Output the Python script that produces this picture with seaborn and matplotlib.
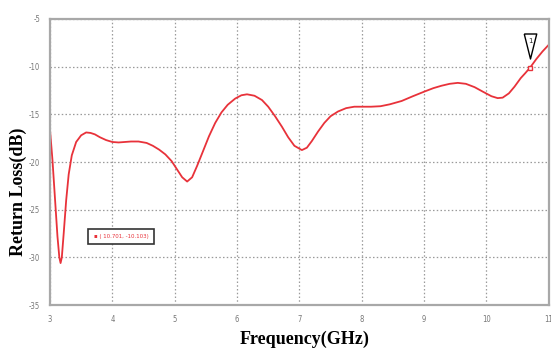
import matplotlib
matplotlib.use("Agg")
import matplotlib.pyplot as plt
import seaborn as sns
import pandas as pd

freq = [3.00, 3.04, 3.08, 3.12, 3.15, 3.17, 3.19, 3.22, 3.26, 3.30, 3.35, 3.42, 3.50, 3.58,
        3.65, 3.72, 3.80, 3.90, 4.00, 4.10, 4.20, 4.30, 4.42, 4.55, 4.65, 4.75, 4.85, 4.95,
        5.05, 5.12, 5.20, 5.28, 5.36, 5.44, 5.55, 5.65, 5.75, 5.85, 5.97, 6.07, 6.16, 6.28,
        6.40, 6.50, 6.61, 6.72, 6.82, 6.92, 7.04, 7.12, 7.20, 7.30, 7.40, 7.50, 7.62, 7.75,
        7.88, 8.00, 8.15, 8.30, 8.45, 8.64, 8.82, 9.01, 9.15, 9.28, 9.41, 9.54, 9.67, 9.81,
        9.95, 10.08, 10.18, 10.26, 10.36, 10.45, 10.55, 10.62, 10.70, 10.80, 10.90, 11.00]
return_loss = [-16.6, -19.8, -23.8, -27.8, -30.0, -30.6, -30.0, -27.5, -24.0, -21.3, -19.3, -17.9,
               -17.2, -16.9, -16.95, -17.1, -17.4, -17.7, -17.9, -17.95, -17.9, -17.85, -17.85,
               -18.0, -18.3, -18.7, -19.2, -19.9, -20.9, -21.6, -22.05, -21.6, -20.4, -19.1,
               -17.3, -15.9, -14.8, -14.0, -13.35, -13.0, -12.9, -13.05, -13.5, -14.2, -15.2,
               -16.3, -17.4, -18.3, -18.75, -18.5, -17.8, -16.8, -15.9, -15.2, -14.7, -14.35,
               -14.2, -14.2, -14.2, -14.15, -13.95, -13.6, -13.1, -12.6, -12.25, -12.0, -11.8,
               -11.7, -11.8, -12.15, -12.65, -13.1, -13.3, -13.25, -12.8, -12.1, -11.2, -10.7,
               -10.1, -9.2, -8.4, -7.7]
x_ticks = [3, 4, 5, 6, 7, 8, 9, 10, 11]
y_ticks = [-5, -10, -15, -20, -25, -30, -35]
marker_freq = [10.701]
marker_val = [-10.103]
marker_label = "( 10.701, -10.103)"

df = pd.DataFrame({"Frequency": freq, "ReturnLoss": return_loss})

sns.set_style("white")
fig = plt.figure(figsize=(5.51, 3.49), dpi=100)
ax = fig.add_axes([0.0907, 0.126, 0.9053, 0.8196])

sns.lineplot(data=df, x="Frequency", y="ReturnLoss", ax=ax, color="#e8323a",
             linewidth=1.3, sort=False)

ax.set_xlim(3, 11)
ax.set_ylim(-35, -5)
ax.set_xticks(x_ticks)
ax.set_yticks(y_ticks)
tick_font = dict(family=["DejaVu Sans"], size=5.5, color="#777777", stretch="condensed")
ax.set_xticklabels([str(t) for t in x_ticks], **tick_font)
ax.set_yticklabels([str(t) for t in y_ticks], **tick_font)
ax.tick_params(axis="both", length=2, width=0.8, color="#999999", pad=5)
ax.grid(True, linestyle=(0, (1.2, 1.8)), color="#9a9a9a", linewidth=0.9)
for s in ax.spines.values():
    s.set_color("#a8a8a8")
    s.set_linewidth(1.6)

ax.set_xlabel("")
ax.set_ylabel("")
label_font = dict(family="Liberation Serif", weight="bold", size=13, color="black")
fig.text(0.553, 1 - 339 / 349, "Frequency(GHz)", ha="center", va="center", **label_font)
fig.text(18 / 551, 1 - 192 / 349, "Return Loss(dB)", ha="center", va="center",
         rotation=90, **label_font)

# marker at the point
ax.plot(marker_freq, marker_val, marker="s", markersize=3.5, markerfacecolor="white",
        markeredgecolor="#e8323a", markeredgewidth=1.0, linestyle="none")
# inverted narrow triangle flag with "1"
tri = [(-0.5, 1.0), (0.5, 1.0), (0.0, -1.0), (-0.5, 1.0)]
ax.plot(marker_freq, [marker_val[0] + 2.3], marker=tri, markersize=18,
        markerfacecolor="white", markeredgecolor="black", markeredgewidth=1.0,
        linestyle="none", clip_on=False)
ax.text(marker_freq[0], marker_val[0] + 2.8, "1", fontsize=5, ha="center", va="center",
        family="DejaVu Sans")

# annotation box
ax.text(4.14, -27.8, "\u25aa " + marker_label, fontsize=4.3, color="#e8323a", ha="center",
        va="center", family="DejaVu Sans", stretch="condensed",
        bbox=dict(boxstyle="square,pad=0.9", facecolor="white", edgecolor="#333333",
                  linewidth=1.2))

fig.savefig("out.png", dpi=100)
